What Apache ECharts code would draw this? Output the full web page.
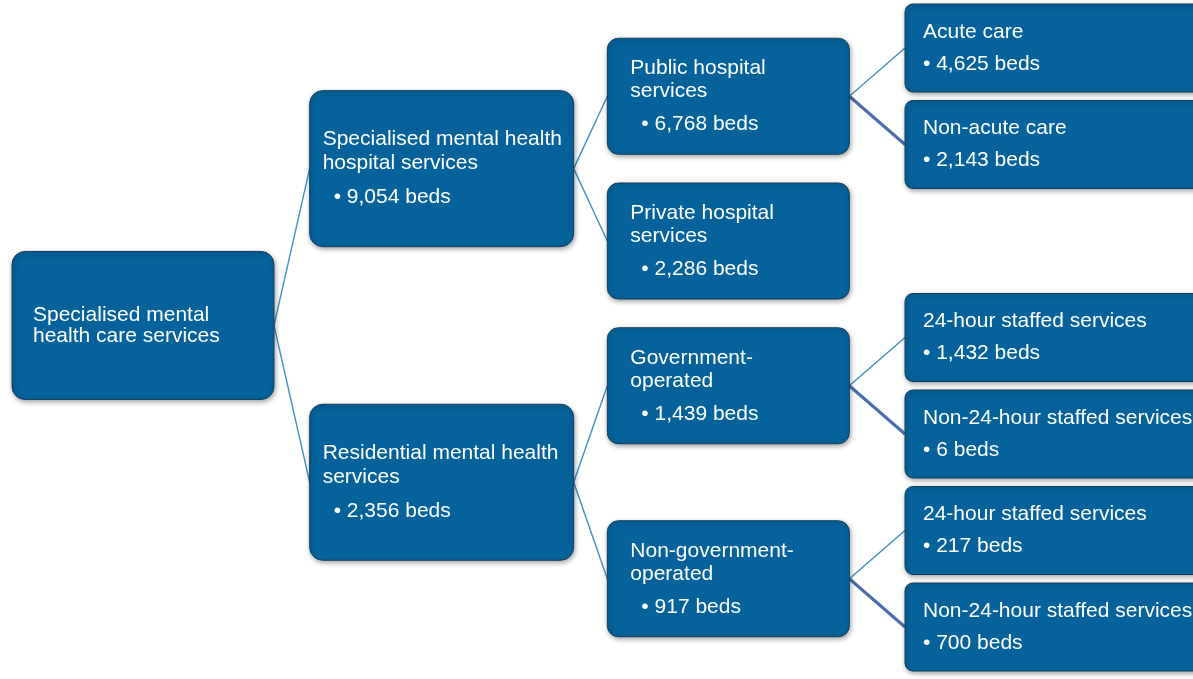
<!DOCTYPE html>
<html>
<head>
<meta charset="utf-8">
<script src="https://cdn.jsdelivr.net/npm/echarts@6/dist/echarts.min.js"></script>
<style>
html,body{margin:0;padding:0;background:#ffffff;}
#chart{width:1193px;height:679px;}
</style>
</head>
<body>
<div id="chart"></div>
<script>
// ---- data ----
const nodeTitles = [
  'Specialised mental\nhealth care services',
  'Specialised mental health\nhospital services',
  'Public hospital\nservices',
  'Private hospital\nservices',
  'Acute care',
  'Non-acute care',
  'Residential mental health\nservices',
  'Government-\noperated',
  '24-hour staffed services',
  'Non-24-hour staffed services',
  'Non-government-\noperated',
  '24-hour staffed services',
  'Non-24-hour staffed services'
];
const nodeBeds = [null, 9054, 6768, 2286, 4625, 2143, 2356, 1439, 1432, 6, 917, 217, 700];
const nodeParents = [-1, 0, 1, 1, 2, 2, 0, 6, 7, 7, 6, 10, 10];
const bedsSuffix = 'beds';

// ---- styles ----
const BOX_W = [262, 264, 242, 330];
const BOX_H = [148, 156, 116, 88];
const BOX_R = [13, 13, 11, 8];
const TEXT_PAD = [21, 13, 23, 18];
const BULLET_INDENT = [0, 11, 11, 0];
const LINE_H = [21, 24, 23, 23];
const BULLET_GAP = [0, 34, 33, 32];
const FILL = '#05629a';
const BORDER = '#123f5f';
const FONT = '21px "Liberation Sans", Arial, sans-serif';
const THIN = '#3f8fc2';
const THICK = '#4c6dad';

// ---- tree structure -> layout values (depth, row) ----
const n = nodeTitles.length;
const kids = nodeTitles.map(() => []);
nodeParents.forEach((p, i) => { if (p >= 0) kids[p].push(i); });
const depth = new Array(n).fill(0);
const row = new Array(n).fill(0);
let leafCounter = 0;
function walk(i, d) {
  depth[i] = d;
  if (kids[i].length === 0) { row[i] = leafCounter++; return; }
  kids[i].forEach(c => walk(c, d + 1));
  row[i] = kids[i].reduce((s, c) => s + row[c], 0) / kids[i].length;
}
walk(0, 0);
const maxDepth = Math.max(...depth);

const nodeData = nodeTitles.map((t, i) => [depth[i], row[i], i]);
const edgeData = nodeTitles.map((t, i) => [depth[i], row[i], i]).filter(d => nodeParents[d[2]] >= 0);

function renderEdge(params, api) {
  const c = api.value(2);
  const p = nodeParents[c];
  const a = api.coord([depth[p], row[p]]);
  const b = api.coord([depth[c], row[c]]);
  const thick = depth[c] === maxDepth && kids[p].indexOf(c) === 1;
  return {
    type: 'line',
    shape: { x1: a[0] + BOX_W[depth[p]], y1: a[1], x2: b[0], y2: b[1] },
    style: { stroke: thick ? THICK : THIN, lineWidth: thick ? 3 : 1.4 }
  };
}

function renderNode(params, api) {
  const i = api.value(2);
  const d = depth[i];
  const p = api.coord([d, row[i]]);
  const w = BOX_W[d], h = BOX_H[d];
  const x = p[0], cy = p[1];
  const children = [{
    type: 'rect',
    shape: { x: x, y: cy - h / 2, width: w, height: h, r: BOX_R[d] },
    style: {
      fill: FILL, stroke: BORDER, lineWidth: 1,
      shadowBlur: 5, shadowOffsetX: 1, shadowOffsetY: 2, shadowColor: 'rgba(0,0,0,0.35)'
    }
  }];
  const lines = nodeTitles[i].split('\n');
  const hasBeds = nodeBeds[i] != null;
  const span = (lines.length - 1) * LINE_H[d] + (hasBeds ? BULLET_GAP[d] : 0);
  const top = cy - span / 2;
  lines.forEach((t, k) => {
    children.push({
      type: 'text',
      style: {
        text: t, x: x + TEXT_PAD[d], y: top + k * LINE_H[d],
        fill: '#ffffff', font: FONT, align: 'left', verticalAlign: 'middle'
      }
    });
  });
  if (hasBeds) {
    children.push({
      type: 'text',
      style: {
        text: '\u2022 ' + nodeBeds[i].toLocaleString('en-US') + ' ' + bedsSuffix,
        x: x + TEXT_PAD[d] + BULLET_INDENT[d],
        y: top + (lines.length - 1) * LINE_H[d] + BULLET_GAP[d],
        fill: '#ffffff', font: FONT, align: 'left', verticalAlign: 'middle'
      }
    });
  }
  return { type: 'group', children: children };
}

const chart = echarts.init(document.getElementById('chart'), null, { renderer: 'canvas' });
chart.setOption({
  backgroundColor: '#ffffff',
  animation: false,
  grid: { left: 12, right: 288, top: 48, bottom: 52 },
  xAxis: { type: 'value', min: 0, max: maxDepth, show: false },
  yAxis: { type: 'value', min: 0, max: leafCounter - 1, inverse: true, show: false },
  series: [
    { type: 'custom', renderItem: renderEdge, data: edgeData, encode: { x: 0, y: 1 }, z: 1, clip: false, silent: true },
    { type: 'custom', renderItem: renderNode, data: nodeData, encode: { x: 0, y: 1 }, z: 2, clip: false, silent: true }
  ]
});
</script>
</body>
</html>
